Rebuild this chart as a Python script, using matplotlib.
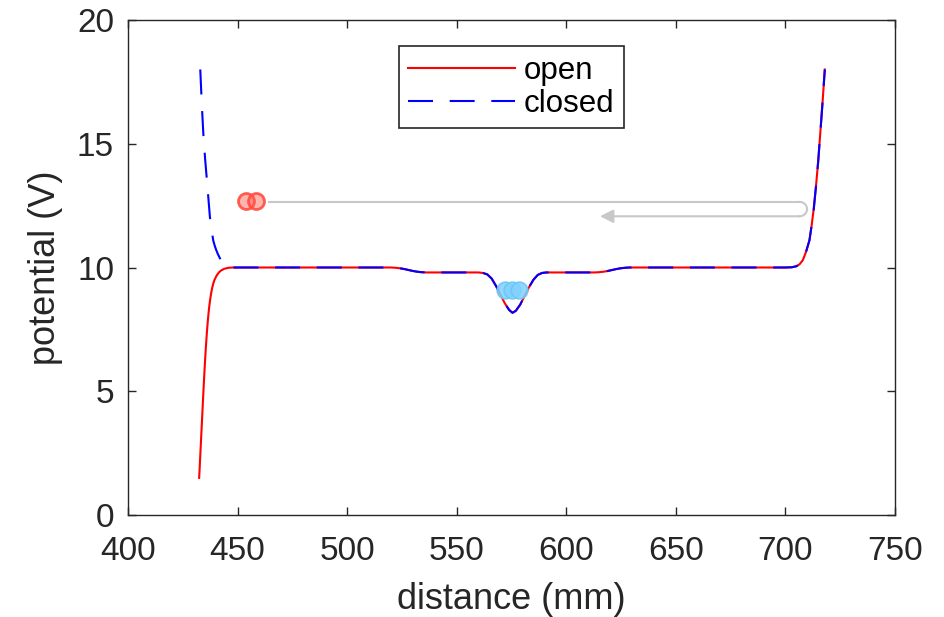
import numpy as np
import matplotlib
matplotlib.use('Agg')
import matplotlib.pyplot as plt

plt.rcParams['font.family'] = ['Liberation Sans', 'DejaVu Sans']

# ---- data ----
# left end, open (red)
dist_open_left = [432.5, 433.0, 433.5, 434.0, 434.5, 435.0, 435.5, 436.0, 436.5, 437.0,
                  437.5, 438.0, 438.5, 439.0, 439.5, 440.5, 441.5, 442.5, 444.0, 446.0]
pot_open_left = [1.5, 2.4, 3.3, 4.2, 5.1, 5.95, 6.7, 7.35, 7.9, 8.35,
                 8.7, 8.98, 9.2, 9.37, 9.5, 9.68, 9.8, 9.88, 9.95, 9.99]

# left end, closed (blue)
dist_closed_left = [433.0, 433.7, 434.4, 435.2, 435.9, 436.7, 437.4, 438.2, 438.9, 439.6,
                    440.3, 441.0, 441.7, 442.6, 443.5, 444.5, 446.0]
pot_closed_left = [18.0, 16.6, 15.4, 14.4, 13.66, 12.8, 12.04, 11.5, 11.1, 10.88,
                   10.7, 10.55, 10.42, 10.27, 10.15, 10.07, 10.01]

# shared body (both curves overlap)
dist_body = [448, 460, 480, 500, 515, 520, 522, 524, 526, 528, 530, 532, 534, 536,
             545, 555, 560, 562, 564, 566, 568, 570, 572, 574, 575.5, 577, 579, 581,
             583, 585, 587, 589, 591, 600, 610, 613, 615, 617, 619, 621, 623, 625, 627,
             629, 640, 660, 680, 695, 700, 703, 705, 706.5, 708, 709.5, 711, 712, 713,
             714, 715, 716, 717, 718]
pot_body = [10.0, 10.0, 10.0, 10.0, 10.0, 10.0, 9.99, 9.97, 9.94, 9.9, 9.86, 9.83, 9.81, 9.8,
            9.8, 9.8, 9.8, 9.78, 9.72, 9.55, 9.25, 8.9, 8.55, 8.28, 8.17, 8.25, 8.5, 8.85,
            9.2, 9.5, 9.7, 9.78, 9.8, 9.8, 9.8, 9.8, 9.81, 9.83, 9.86, 9.9, 9.94, 9.97, 9.99,
            10.0, 10.0, 10.0, 10.0, 10.0, 10.0, 10.01, 10.05, 10.13, 10.3, 10.65, 11.1, 11.7, 12.4,
            13.3, 14.3, 15.5, 16.7, 18.0]

# particle markers
red_x = [454.0, 458.4]
red_y = [12.68, 12.68]
blue_x = [572.0, 575.3, 578.5]
blue_y = [9.1, 9.1, 9.1]

# return-path arrow (grey)
arrow_start = 464.0
arrow_turn = 706.5
arrow_tip = 615.4
arrow_y_top = 12.65
arrow_y_bot = 12.07

open_x = dist_open_left + dist_body
open_y = pot_open_left + pot_body
closed_x = dist_closed_left + dist_body
closed_y = pot_closed_left + pot_body

# ---- figure ----
fig = plt.figure(figsize=(9.45, 6.17), dpi=100)
ax = fig.add_axes([0.1354, 0.1653, 0.8116, 0.8023])

dark = '#262626'
grey = '#c8c8c8'

# grey arrow: top line, rounded turn, bottom line with head
ax.plot([arrow_start, arrow_turn], [arrow_y_top, arrow_y_top], color=grey, lw=1.5,
        solid_capstyle='butt', zorder=1)
t = np.linspace(0, np.pi, 30)
rx = 3.4
ry = (arrow_y_top - arrow_y_bot) / 2
yc = (arrow_y_top + arrow_y_bot) / 2
ax.plot(arrow_turn + rx * np.sin(t), yc + ry * np.cos(t), color=grey, lw=1.5, zorder=1)
ax.annotate('', xy=(arrow_tip, arrow_y_bot), xytext=(arrow_turn, arrow_y_bot),
            arrowprops=dict(arrowstyle='-|>,head_length=0.8,head_width=0.4',
                            color=grey, lw=1.5, shrinkA=0, shrinkB=0, mutation_scale=10),
            zorder=1)

ax.plot(open_x, open_y, color='red', lw=1.5, label='open', zorder=2)
ax.plot(closed_x, closed_y, color='blue', lw=1.5, dashes=(12, 8), label='closed', zorder=3)

ax.plot(red_x, red_y, 'o', ms=11.5, mfc=(1, 0.35, 0.3, 0.45), mec=(1, 0.3, 0.25, 0.9),
        mew=2, zorder=4, linestyle='none')
ax.plot(blue_x, blue_y, 'o', ms=12, mfc=(0.5, 0.82, 1.0, 0.85), mec=(0.42, 0.78, 0.96, 0.9),
        mew=1.2, zorder=4, linestyle='none')

ax.set_xlim(400, 750)
ax.set_ylim(0, 20)
ax.set_xticks(range(400, 751, 50))
ax.set_yticks(range(0, 21, 5))
ax.tick_params(direction='in', length=6, width=1, top=True, right=True,
               labelsize=24, colors=dark)
ax.tick_params(axis='x', pad=15)
ax.tick_params(axis='y', pad=10)
for s in ax.spines.values():
    s.set_color(dark)
    s.set_linewidth(1)

ax.set_xlabel('distance (mm)', fontsize=26, color=dark, labelpad=11)
ax.set_ylabel('potential (V)', fontsize=26, color=dark, labelpad=10)

leg = ax.legend(loc='upper center', bbox_to_anchor=(0.5, 0.947), fontsize=22.5,
                fancybox=False, framealpha=1, edgecolor=dark, handlelength=3.4,
                borderpad=0.3, labelspacing=0.1, handletextpad=0.3, borderaxespad=0)
leg.get_frame().set_linewidth(1.2)

fig.savefig('out.png', dpi=100)
